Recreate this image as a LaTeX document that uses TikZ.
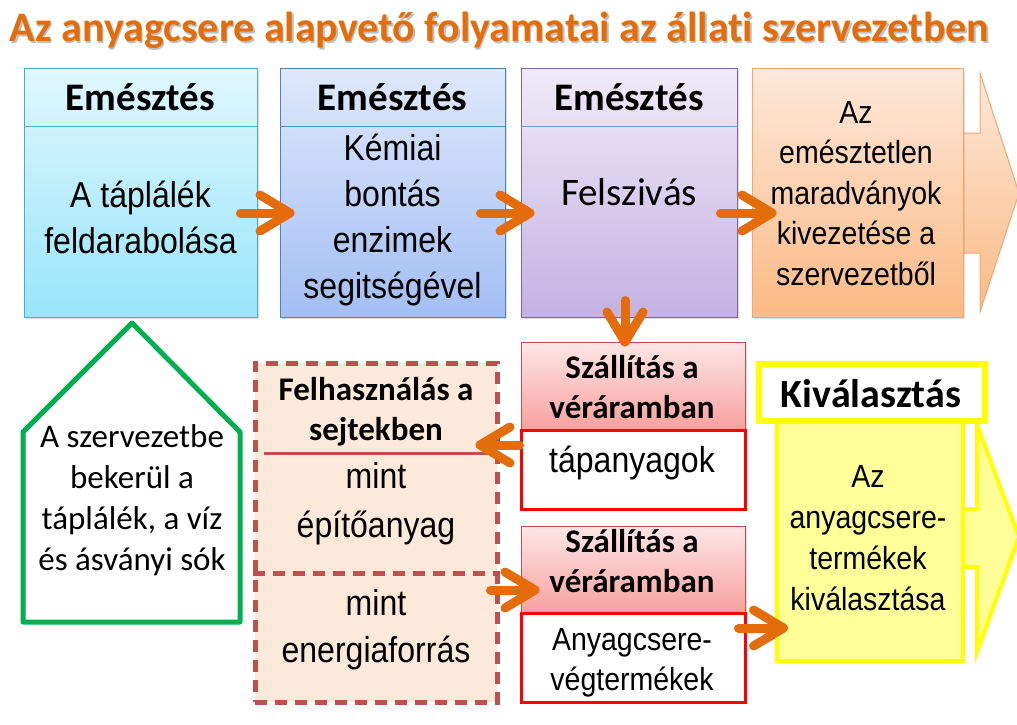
\documentclass[tikz,border=0pt]{standalone}
\usepackage{fontspec}
\setmainfont{Liberation Sans}
\newfontfamily\arialn{Liberation Sans}[FakeStretch=0.89]
\newfontfamily\calib{Carlito}[Ligatures={NoCommon}]
\usetikzlibrary{arrows.meta,shadows}
\definecolor{titleor}{HTML}{E46C0A}
\definecolor{arrowor}{HTML}{E46C0A}
\definecolor{cyD}{HTML}{4BACC6}\definecolor{cyT}{HTML}{E0F7FE}\definecolor{cyB}{HTML}{98E5FA}
\definecolor{blD}{HTML}{4F81BD}\definecolor{blT}{HTML}{DEE8FB}\definecolor{blB}{HTML}{A3BEF4}
\definecolor{puD}{HTML}{8064A2}\definecolor{puT}{HTML}{EFEAF8}\definecolor{puB}{HTML}{C4B2E2}
\definecolor{orD}{HTML}{F9A66A}\definecolor{orT}{HTML}{FDE8DA}\definecolor{orB}{HTML}{FBBA84}
\definecolor{rdD}{HTML}{C0504D}\definecolor{rdT}{HTML}{FFE6E6}\definecolor{rdB}{HTML}{F7A09E}
\definecolor{yeF}{HTML}{FFFF99}\definecolor{yeD}{HTML}{FFFF00}
\definecolor{grD}{HTML}{00B050}
\definecolor{peach}{HTML}{FCE9DA}
\begin{document}
\begin{tikzpicture}[x=1pt,y=-1pt,
  box/.style={draw, line width=1pt, inner sep=0pt,
    drop shadow={shadow xshift=1.5pt, shadow yshift=-2pt, opacity=0.25}},
  flow/.style={draw=arrowor, line width=9pt, line cap=round, line join=round,
    -{Straight Barb[length=30pt,width=36pt,round]}},
  hdr/.style={font=\calib\bfseries\fontsize{39}{46}\selectfont, anchor=base, inner sep=0pt},
  bodyA/.style={font=\arialn\fontsize{36}{46}\selectfont, align=center, inner sep=0pt},
  bodyB/.style={font=\arialn\fontsize{32}{40.5}\selectfont, align=center, inner sep=0pt},
  redhdr/.style={font=\calib\bfseries\fontsize{33}{40}\selectfont, align=center, inner sep=0pt},
  titlefont/.style={font=\calib\bfseries\fontsize{42}{50}\selectfont, anchor=base, inner sep=0pt},
]
\useasboundingbox (0,0) rectangle (1017,725);

% title
\node[titlefont, text=black, opacity=0.25] (titleshadow) at (501,44) {Az anyagcsere alapvető folyamatai az állati szervezetben};
\node[titlefont, text=titleor] (title) at (499.5,42) {Az anyagcsere alapvető folyamatai az állati szervezetben};

% top row boxes
\node[box, draw=cyD, top color=cyT, bottom color=cyB, minimum width=233pt, minimum height=248pt] (b1) at (140.5,193) {};
\draw[cyD, line width=1pt] (b1.west |- 0,126) -- (b1.east |- 0,126);
\node[box, draw=blD, top color=blT, bottom color=blB, minimum width=225pt, minimum height=248pt] (b2) at (392.5,193) {};
\draw[blD!70!cyD, line width=1pt] (b2.west |- 0,126) -- (b2.east |- 0,126);
\node[box, draw=puD, top color=puT, bottom color=puB, minimum width=216pt, minimum height=248pt] (b3) at (629,193) {};
\draw[blD!80, line width=1pt] (b3.west |- 0,126) -- (b3.east |- 0,126);

% orange notched arrow + box
\draw[orD, line width=1pt, top color=orT, bottom color=orB]
  (950,133) -- (980,133) -- (980,73) -- (1019,193) -- (980,312) -- (980,253) -- (950,253);
\node[box, draw=orD, top color=orT, bottom color=orB, minimum width=211pt, minimum height=248pt] (b4) at (857.5,193) {};

\node[hdr] (h1) at (140.5,110) {Emésztés};
\node[hdr] (h2) at (392.5,110) {Emésztés};
\node[hdr] (h3) at (629,110) {Emésztés};
\node[bodyA] (t1) at (140.5,220.8) {\strut A táplálék\\\strut feldarabolása};
\node[bodyA] (t2) at (392.5,220.7) {\strut Kémiai\\\strut bontás\\\strut enzimek\\\strut segitségével};
\node[font=\calib\fontsize{39}{46}\selectfont, anchor=base, inner sep=0pt] (t3) at (629,205) {Felszivás};
\node[bodyB] (t4) at (856,195.9) {\strut Az\\\strut emésztetlen\\\strut maradványok\\\strut kivezetése a\\\strut szervezetből};

% green pentagon
\draw[grD, line width=5pt, line join=round, fill=white]
  (23,432) -- (132,323) -- (240,432) -- (240,622) -- (23,622) -- cycle;
\node[font=\calib\fontsize{33}{40.7}\selectfont, align=center, inner sep=0pt] (g1) at (132,500.9)
  {\strut A szervezetbe\\\strut bekerül a\\\strut táplálék, a víz\\\strut és ásványi sók};

% dashed use box
\node[draw=rdD, fill=peach, line width=5pt, dash pattern=on 12pt off 8pt, minimum width=242pt, minimum height=339pt, inner sep=0pt] (use) at (376,532.5) {};
\draw[rdD, line width=3pt] (264,453) -- (493,453);
\draw[rdD, line width=5pt, dash pattern=on 12pt off 8pt] (use.west |- 0,573) -- (use.east |- 0,573);
\node[redhdr] (u1) at (376,412.6) {\strut Felhasználás a\\\strut sejtekben};
\node[bodyA, font=\arialn\fontsize{36}{49}\selectfont] (u2) at (376,502.7) {\strut mint\\\strut építőanyag};
\node[bodyA, font=\arialn\fontsize{36}{47}\selectfont] (u3) at (376,629.1) {\strut mint\\\strut energiaforrás};

% red transport boxes
\node[box, draw=rdD, top color=rdT, bottom color=rdB, minimum width=224pt, minimum height=88pt] (r1) at (633,386) {};
\node[draw=red, line width=3pt, fill=white, minimum width=224pt, minimum height=79pt, inner sep=0pt] (w1) at (633,469.5) {};
\node[box, draw=rdD, top color=rdT, bottom color=rdB, minimum width=224pt, minimum height=87pt] (r2) at (633,569.5) {};
\node[draw=red, line width=3pt, fill=white, minimum width=224pt, minimum height=89pt, inner sep=0pt] (w2) at (633,657.5) {};
\node[redhdr] (rt1) at (632,390) {\strut Szállítás a\\\strut véráramban};
\node[font=\arialn\fontsize{36}{46}\selectfont, anchor=base, inner sep=0pt] (wt1) at (632,472) {tápanyagok};
\node[redhdr] (rt2) at (632,564.3) {\strut Szállítás a\\\strut véráramban};
\node[font=\arialn\fontsize{32}{40}\selectfont, align=center, inner sep=0pt] (wt2) at (632,662) {\strut Anyagcsere-\\\strut végtermékek};

% yellow excretion
\draw[yeD, line width=4pt, fill=yeF]
  (950,509) -- (977,509) -- (977,425) -- (1019,537) -- (977,652) -- (977,567) -- (950,567);
\node[draw=yeD, line width=4pt, fill=yeF, minimum width=186pt, minimum height=240pt, inner sep=0pt] (y1) at (870,541) {};
\node[draw=yeD, line width=6pt, fill=white, minimum width=226pt, minimum height=57pt, inner sep=0pt] (yh) at (872,392.5) {};
\node[font=\calib\bfseries\fontsize{40}{46}\selectfont, anchor=base, inner sep=0pt] (yt) at (871,407) {Kiválasztás};
\node[bodyB, font=\arialn\fontsize{32}{41}\selectfont] (yb) at (868,540.3) {\strut Az\\\strut anyagcsere-\\\strut termékek\\\strut kiválasztása};

% connectors
\draw[flow] ([shift={(-17,20)}]b1.east) -- ([shift={(15,20)}]b2.west);
\draw[flow] ([shift={(-25,20)}]b2.east) -- ([shift={(14,20)}]b3.west);
\draw[flow] ([shift={(-17,20)}]b3.east) -- ([shift={(25,20)}]b4.west);
\draw[flow] ([shift={(-4,-17)}]b3.south) -- ([shift={(-8,5)}]r1.north);
\draw[flow] ([shift={(0,-24.5)}]w1.west) -- ([shift={(-24,-87.5)}]use.east);
\draw[flow] ([shift={(-9,57.5)}]use.east) -- ([shift={(19,20.5)}]r2.west);
\draw[flow] ([shift={(-8,-29.5)}]w2.east) -- ([shift={(13,87)}]y1.west);
\end{tikzpicture}
\end{document}
